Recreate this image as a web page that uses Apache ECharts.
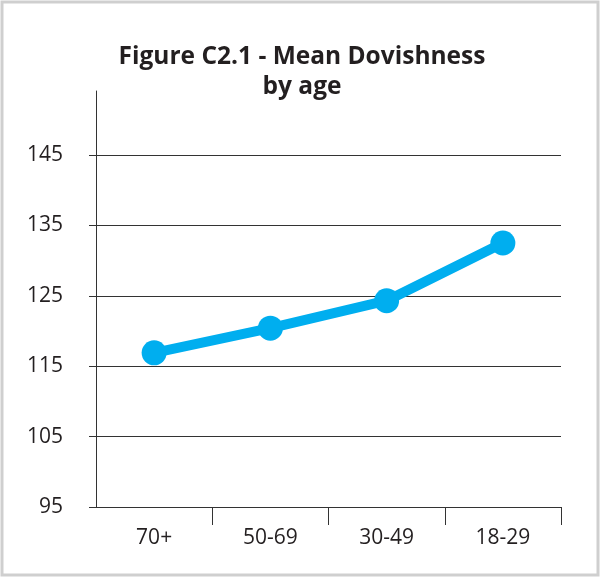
<!DOCTYPE html>
<html>
<head>
    <meta charset="utf-8">
    <title>Figure C2.1 - Mean Dovishness by age</title>
    <script type="text/javascript" src="https://cdn.jsdelivr.net/npm/echarts@6/dist/echarts.min.js"></script>
    <style>
        html, body { margin: 0; padding: 0; background: #fff; }
    </style>
</head>
<body>
    <div id="main" style="width:601px; height:578px;"></div>
    <script type="text/javascript">

    // age groups, oldest first as in the figure
    var ageGroups = ['70+', '50-69', '30-49', '18-29'];
    // mean dovishness score per group
    var meanDovishness = [116.9, 120.4, 124.3, 132.5];

    var myChart = echarts.init(document.getElementById('main'));

    var axisColor = '#333';
    var textColor = '#231f20';
    var lineColor = '#00aeef';
    var fontName = '"Open Sans", "Noto Sans", sans-serif';

    var option = {
        backgroundColor: '#fff',
        animation: false,
        title: {
            text: 'Figure C2.1 - Mean Dovishness\nby age',
            left: 297,
            textAlign: 'center',
            top: 37,
            textStyle: {
                fontFamily: fontName,
                fontWeight: 'bold',
                fontSize: 24.5,
                lineHeight: 30,
                color: textColor
            }
        },
        graphic: [{
            type: 'rect',
            silent: true,
            shape: {x: 2, y: 2, width: 596, height: 573},
            style: {fill: 'none', stroke: '#cfcfcf', lineWidth: 3}
        }],
        // grid 0 holds the data, grid 1 only carries the taller y axis line
        grid: [
            {left: 96, right: 40, top: 155, bottom: 71},
            {left: 96, right: 40, top: 91, bottom: 71}
        ],
        xAxis: [{
            type: 'category',
            gridIndex: 0,
            data: ageGroups,
            boundaryGap: true,
            axisLine: {lineStyle: {color: axisColor, width: 1}},
            axisTick: {
                show: true,
                length: 18,
                // no tick on the y axis corner
                interval: function (index) { return index > 0; },
                lineStyle: {color: axisColor}
            },
            axisLabel: {
                margin: 21,
                fontFamily: fontName,
                fontSize: 21,
                color: textColor
            },
            splitLine: {show: false}
        }, {
            type: 'category',
            gridIndex: 1,
            data: ageGroups,
            show: false
        }],
        yAxis: [{
            type: 'value',
            gridIndex: 0,
            min: 95,
            max: 145,
            interval: 10,
            axisLine: {show: false},
            axisTick: {show: true, length: 7, lineStyle: {color: axisColor}},
            axisLabel: {
                margin: 33,
                fontFamily: fontName,
                fontSize: 21,
                color: textColor
            },
            splitLine: {show: true, lineStyle: {color: axisColor, width: 1}}
        }, {
            type: 'value',
            gridIndex: 1,
            min: 95,
            max: 154,
            axisLine: {show: true, lineStyle: {color: axisColor, width: 1}},
            axisTick: {show: false},
            axisLabel: {show: false},
            splitLine: {show: false}
        }],
        series: [{
            type: 'line',
            xAxisIndex: 0,
            yAxisIndex: 0,
            data: meanDovishness,
            symbol: 'circle',
            symbolSize: 25,
            lineStyle: {color: lineColor, width: 10},
            itemStyle: {color: lineColor}
        }]
    };

    myChart.setOption(option);
    </script>
</body>
</html>
